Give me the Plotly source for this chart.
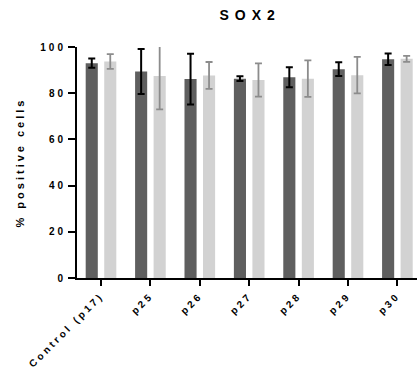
import plotly.graph_objects as go

categories = ["Control (p17)", "p25", "p26", "p27", "p28", "p29", "p30"]
dark_values = [93.0, 89.4, 86.1, 86.3, 86.9, 90.4, 94.7]
dark_err = [2.0, 9.7, 11.0, 1.0, 4.3, 3.0, 2.5]
light_values = [93.7, 87.4, 87.7, 85.7, 86.3, 87.8, 94.9]
light_err = [3.2, 14.4, 5.8, 7.2, 7.9, 7.9, 1.3]
y_ticks = [0, 20, 40, 60, 80, 100]

FONT = "Liberation Sans, Arial, sans-serif"

fig = go.Figure()
fig.add_trace(go.Bar(
    x=categories, y=dark_values, width=0.245, offset=-0.31,
    marker=dict(color="#5f5f5f", line=dict(width=0)),
    error_y=dict(type="data", array=dark_err, color="#000000", thickness=2, width=3.5),
    showlegend=False,
))
fig.add_trace(go.Bar(
    x=categories, y=light_values, width=0.245, offset=0.065,
    marker=dict(color="#d2d2d2", line=dict(width=0)),
    error_y=dict(type="data", array=light_err, color="#8c8c8c", thickness=1.8, width=3.5),
    showlegend=False,
))

fig.update_layout(
    width=417, height=382,
    margin=dict(l=77, r=0, t=47, b=104),
    paper_bgcolor="white", plot_bgcolor="white",
    barmode="overlay",
    title=dict(text="<b>SOX2</b>", x=0.6, xanchor="center", y=0.96, yanchor="middle",
               font=dict(family=FONT, size=14, color="#000")),
    font=dict(family=FONT, color="#000"),
)
fig.update_xaxes(
    range=[-0.486, 6.397], showline=True, linecolor="#000", linewidth=2,
    ticks="outside", ticklen=6, tickwidth=2, tickcolor="#000",
    tickangle=-45, tickfont=dict(family=FONT, size=10, color="#000"),
    showgrid=False, zeroline=False,
    tickvals=list(range(len(categories))), ticktext=["<b>%s</b>" % c for c in categories],
)
fig.update_yaxes(
    range=[0, 100], showline=True, linecolor="#000", linewidth=2,
    ticks="outside", ticklen=7, tickwidth=2, tickcolor="#000",
    tickvals=y_ticks, ticktext=["<b>%d</b>" % v for v in y_ticks],
    tickfont=dict(family=FONT, size=10, color="#000"),
    showgrid=False, zeroline=False,
    title=dict(text="<b>% positive cells</b>", font=dict(family=FONT, size=11, color="#000"), standoff=22),
)

post = """
var gd = document.getElementById('{plot_id}');
function applySpacing(){
  gd.querySelectorAll('.xtick text, .ytick text, .ytitle').forEach(function(e){
    e.setAttribute('letter-spacing', '3px');
    e.style.letterSpacing = '3px';
  });
  gd.querySelectorAll('.gtitle').forEach(function(e){
    e.setAttribute('letter-spacing', '6px');
    e.style.letterSpacing = '6px';
  });
}
applySpacing();
if (gd.on) { gd.on('plotly_afterplot', applySpacing); }
"""
fig.write_html("out.html", post_script=post)
